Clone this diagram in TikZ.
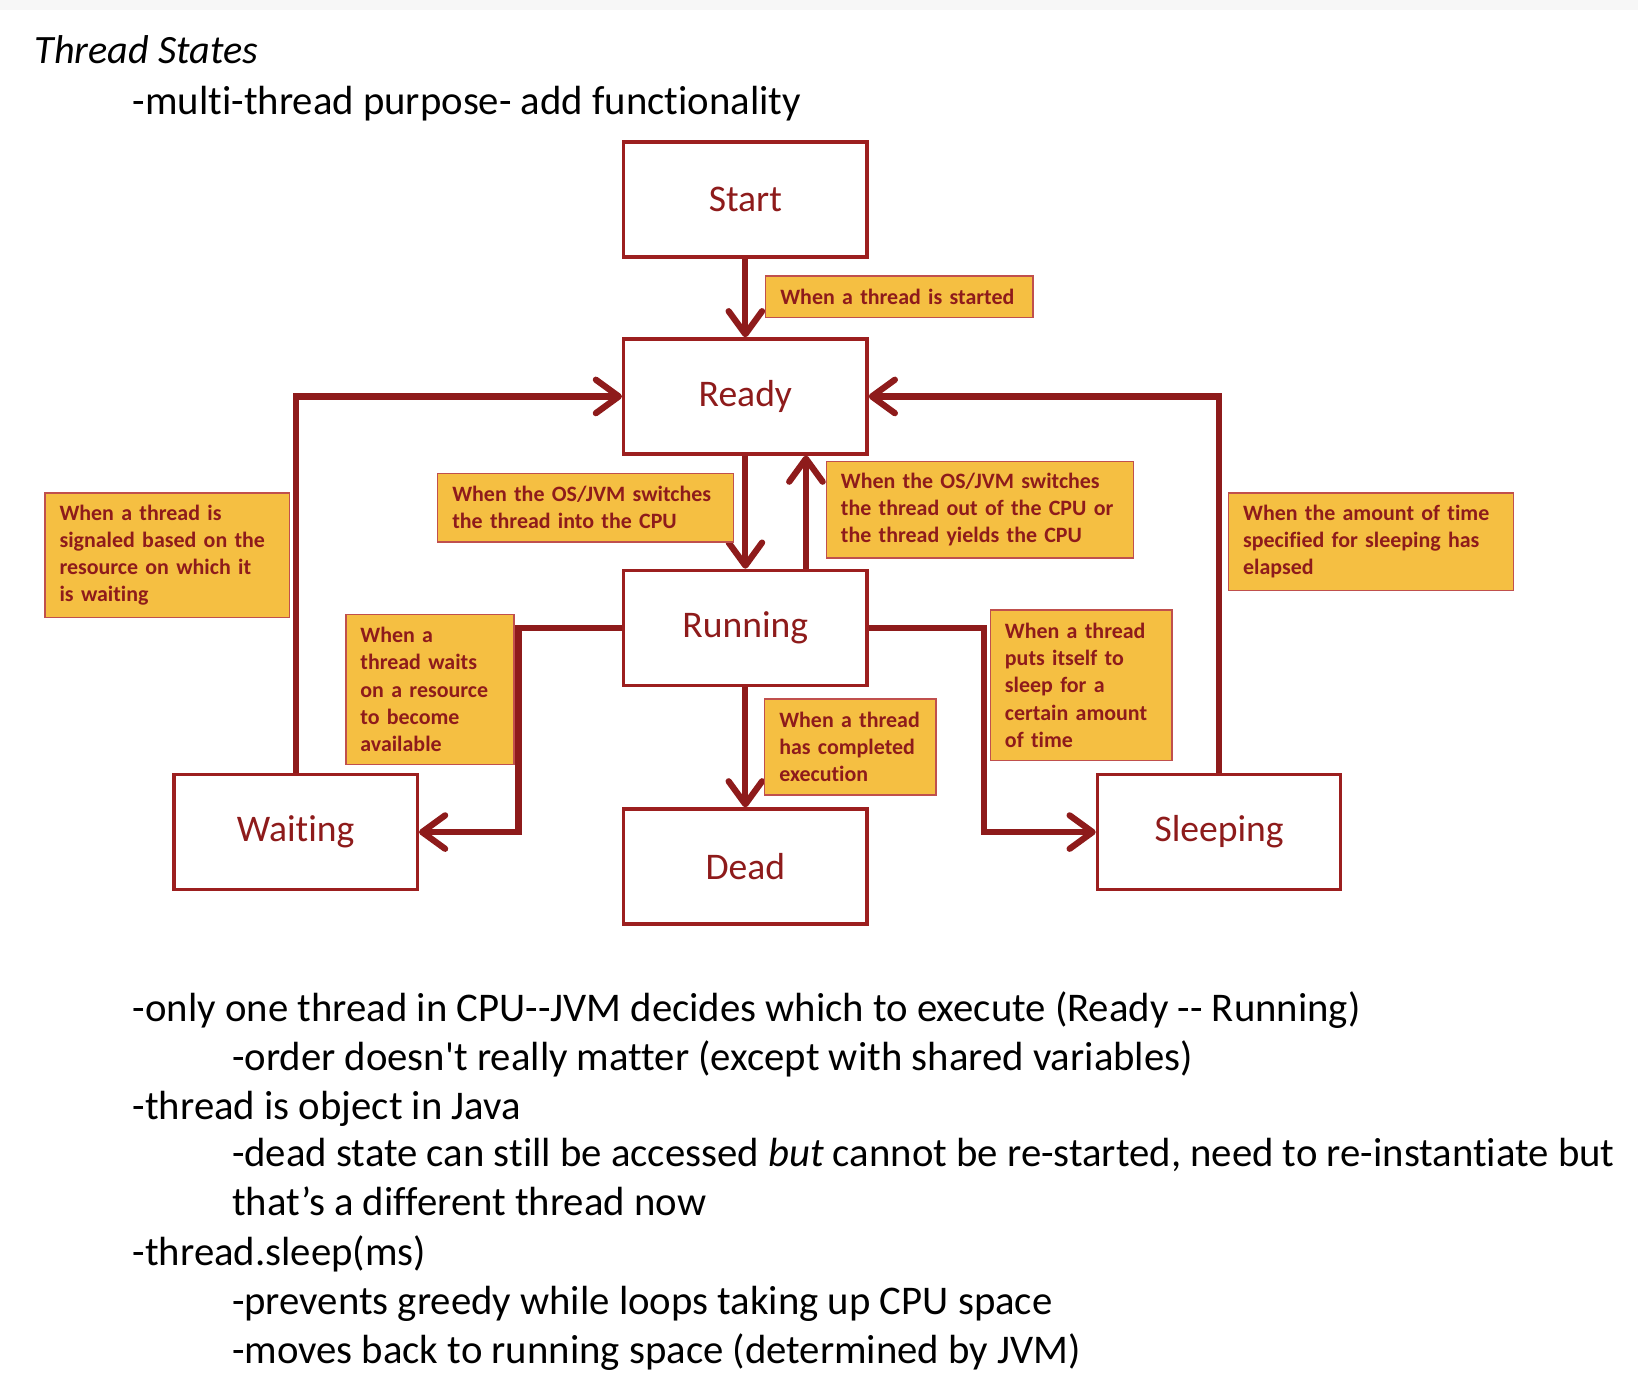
\documentclass[tikz,border=0pt]{standalone}
\usepackage{fontspec}
\setmainfont{Carlito}[Ligatures=CommonOff]
\usetikzlibrary{arrows.meta}
\definecolor{darkred}{HTML}{8E1B1B}
\definecolor{boxred}{HTML}{9C1F1F}
\definecolor{notefill}{HTML}{F5BF42}
\definecolor{noteline}{HTML}{C0504D}
\tikzset{
  stbox/.style={draw=boxred, line width=3.2pt, fill=white, minimum width=233pt,
    minimum height=110pt, text=darkred, font=\fontsize{36}{40}\selectfont},
  cond/.style={draw=noteline, line width=1.4pt, fill=notefill, text=darkred,
    align=left, inner xsep=14pt, inner ysep=0pt, font=\bfseries\fontsize{21}{26}\selectfont},
  flow/.style={draw=darkred, line width=6pt,
    -{Straight Barb[length=22pt,width=32pt,line cap=round,round]}},
  txt/.style={anchor=base west, inner sep=0pt, font=\fontsize{39}{46}\selectfont}
}
\begin{document}
\begin{tikzpicture}[x=1pt,y=-1pt]
 		\useasboundingbox (0,0) rectangle (1568,1315);
 		\fill [gray!6] (0,0) rectangle (1568,10);
 		\node [txt, font=\itshape\fontsize{38.5}{44}\selectfont] (title) at (33,61) {Thread States};
 		\node [txt] (purpose) at (127,110) {-multi-thread purpose- add functionality};
 		\node [stbox] (start) at (713.5,191) {Start};
 		\node [stbox] (ready) at (713.5,379.5) {Ready};
 		\node [stbox] (run) at (713.5,601) {Running};
 		\node [stbox] (dead) at (713.5,829.5) {Dead};
 		\node [stbox] (wait) at (283,796.5) {Waiting};
 		\node [stbox] (sleep) at (1167,796.5) {Sleeping};
 		\draw [flow] (start) -- (ready);
 		\draw [flow] (ready) -- (run);
 		\draw [flow] ([xshift=58pt]run.north) -- ([xshift=58pt]ready.south);
 		\draw [flow] (run) -- (dead);
 		\draw [flow] (run.west) -- ++(-99,0) |- (wait.east);
 		\draw [flow] (run.east) -- ++(110,0) |- (sleep.west);
 		\draw [flow] (wait.north) |- (ready.west);
 		\draw [flow] (sleep.north) |- (ready.east);
 		\node [cond, text width=228pt, minimum height=40pt] (c1) at (861,284) {When a thread is started};
 		\node [cond, text width=255pt, minimum height=66pt] (c2) at (560.5,486) {When the OS/JVM switches\\the thread into the CPU};
 		\node [cond, text width=266pt, minimum height=92pt] (c3) at (938,488) {When the OS/JVM switches\\the thread out of the CPU or\\the thread yields the CPU};
 		\node [cond, text width=206pt, minimum height=119pt] (c4) at (160,531.5) {When a thread is\\signaled based on the\\resource on which it\\is waiting};
 		\node [cond, text width=245pt, minimum height=93pt] (c5) at (1312.5,518.5) {When the amount of time\\specified for sleeping has\\elapsed};
 		\node [cond, text width=133pt, minimum height=144pt] (c6) at (411.5,660) {When a\\thread waits\\on a resource\\to become\\available};
 		\node [cond, text width=136pt, minimum height=92pt] (c7) at (814,715) {When a thread\\has completed\\execution};
 		\node [cond, text width=146pt, minimum height=144pt] (c8) at (1035,656) {When a thread\\puts itself to\\sleep for a\\certain amount\\of time};
 		\node [txt] (l1) at (127,978) {-only one thread in CPU-{}-JVM decides which to execute (Ready -{}- Running)};
 		\node [txt] (l2) at (222,1025) {-order doesn\textquotesingle t really matter (except with shared variables)};
 		\node [txt] (l3) at (127,1072) {-thread is object in Java};
 		\node [txt] (l4) at (222,1117) {-dead state can still be accessed \textit{but} cannot be re-started, need to re-instantiate but};
 		\node [txt] (l5) at (222,1164) {that’s a different thread now};
 		\node [txt] (l6) at (127,1211) {-thread.sleep(ms)};
 		\node [txt] (l7) at (222,1258) {-prevents greedy while loops taking up CPU space};
 		\node [txt] (l8) at (222,1305) {-moves back to running space (determined by JVM)};
 		\end{tikzpicture}
\end{document}
